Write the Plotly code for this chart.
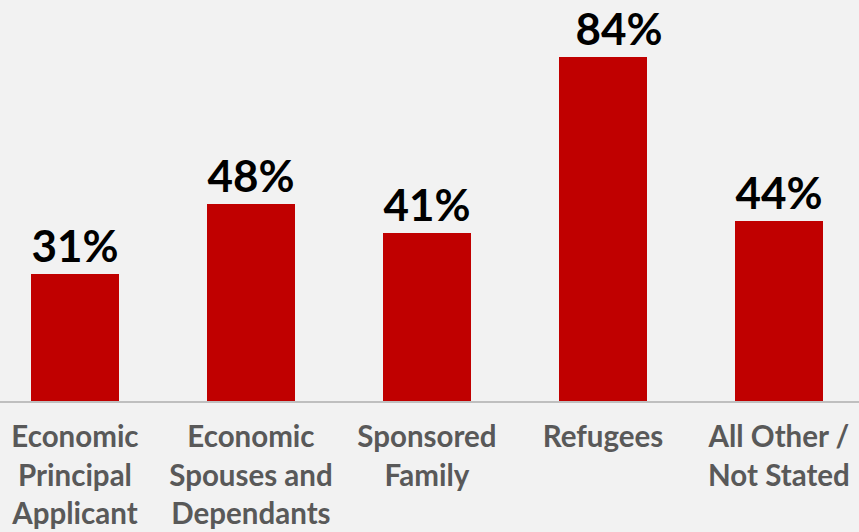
import plotly.graph_objects as go

categories = ["Economic<br>Principal<br>Applicant", "Economic<br>Spouses and<br>Dependants",
              "Sponsored<br>Family", "Refugees", "All Other /<br>Not Stated"]
values = [31, 48, 41, 84, 44]
labels = ["31%", "48%", "41%", "\u00a0\u00a0\u00a084%", "44%"]

fig = go.Figure(go.Bar(
    x=list(range(len(categories))), y=values, text=labels,
    textposition="outside", cliponaxis=False, constraintext="none",
    textfont=dict(family="Lato", size=44, color="#000000", weight="bold"),
    marker=dict(color="#C00000", line=dict(width=0)),
    width=0.5,
))
fig.update_layout(
    width=859, height=532,
    margin=dict(l=0, r=0, t=0, b=131),
    paper_bgcolor="#F2F2F2", plot_bgcolor="#F2F2F2",
    showlegend=False,
    xaxis=dict(tickmode="array", tickvals=list(range(len(categories))), ticktext=categories,
               range=[-0.426, 4.455], showgrid=False, zeroline=False,
               showline=True, linecolor="#BFBFBF", linewidth=2, ticks="",
               ticklabelstandoff=9,
               tickfont=dict(family="Lato", size=29.5, color="#595959", weight="bold")),
    yaxis=dict(range=[0, 97.9], visible=False),
    bargap=0,
)
fig.write_html("out.html", config={"displayModeBar": False},
               post_script="document.body.style.margin='0';")
